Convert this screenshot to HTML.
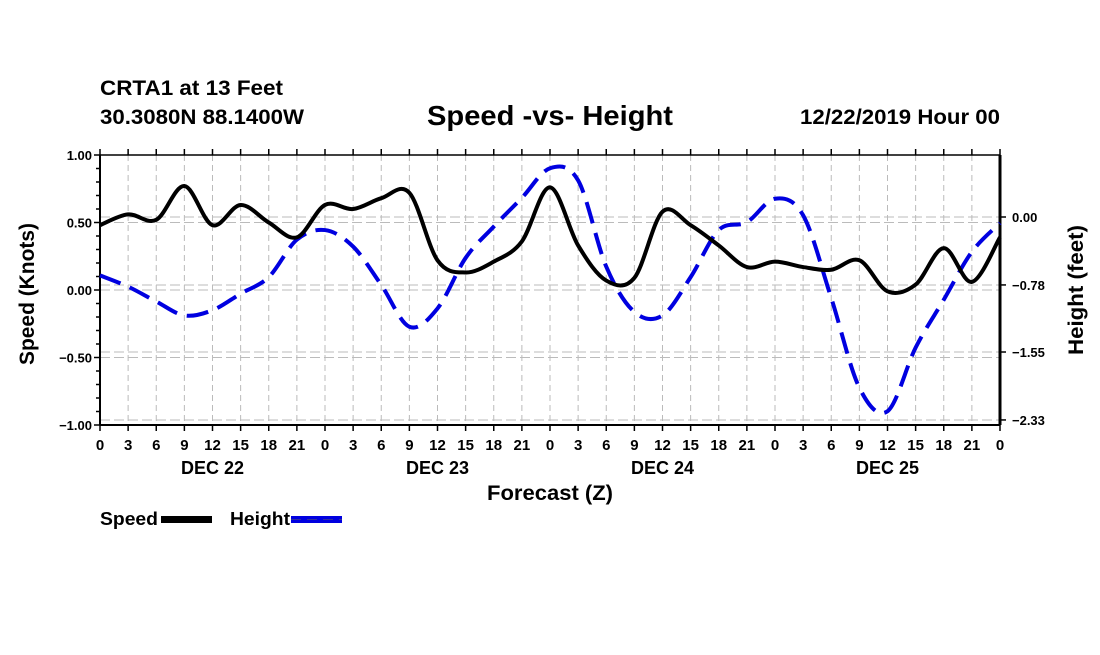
<!DOCTYPE html>
<html><head><meta charset="utf-8"><style>
html,body{margin:0;padding:0;background:#fff;}
svg text{font-family:"Liberation Sans",sans-serif;font-weight:bold;fill:#000;}
</style></head><body>
<svg id="chart" width="1100" height="650" viewBox="0 0 1100 650" xmlns="http://www.w3.org/2000/svg">
<text x="100" y="95" font-size="21" textLength="183" lengthAdjust="spacingAndGlyphs">CRTA1 at 13 Feet</text>
<text x="100" y="124" font-size="21" textLength="204" lengthAdjust="spacingAndGlyphs">30.3080N 88.1400W</text>
<text x="550" y="125" font-size="28" text-anchor="middle" textLength="246" lengthAdjust="spacingAndGlyphs">Speed -vs- Height</text>
<text x="1000" y="124" font-size="21" text-anchor="end" textLength="200" lengthAdjust="spacingAndGlyphs">12/22/2019 Hour 00</text>
<g id="grid"></g><g id="axes"></g><g id="series"></g>
<text transform="translate(34,294) rotate(-90)" font-size="21" text-anchor="middle" textLength="142" lengthAdjust="spacingAndGlyphs">Speed (Knots)</text>
<text transform="translate(1083,290) rotate(-90)" font-size="21" text-anchor="middle" textLength="130" lengthAdjust="spacingAndGlyphs">Height (feet)</text>
<text x="550" y="500" font-size="21" text-anchor="middle" textLength="126" lengthAdjust="spacingAndGlyphs">Forecast (Z)</text>
<g>
<text x="100" y="525" font-size="18" textLength="58" lengthAdjust="spacingAndGlyphs">Speed</text>
<rect x="161" y="516" width="51" height="7" fill="#000"/>
<text x="230" y="525" font-size="18" textLength="60" lengthAdjust="spacingAndGlyphs">Height</text>
<rect x="291" y="516" width="51" height="7" fill="#0000e0"/>
<line x1="291" y1="519.5" x2="342" y2="519.5" stroke="#3030a0" stroke-width="1" stroke-dasharray="10,6"/>
</g>
</svg>
<script>
const hours=[0,3,6,9,12,15,18,21,24,27,30,33,36,39,42,45,48,51,54,57,60,63,66,69,72,75,78,81,84,87,90,93,96];
const speed=[0.48,0.56,0.52,0.77,0.48,0.63,0.50,0.39,0.63,0.60,0.68,0.72,0.22,0.13,0.21,0.36,0.76,0.33,0.07,0.09,0.58,0.48,0.33,0.17,0.21,0.17,0.15,0.22,-0.01,0.04,0.31,0.06,0.39];
const height=[-0.67,-0.80,-0.97,-1.13,-1.07,-0.88,-0.69,-0.26,-0.15,-0.34,-0.78,-1.26,-1.05,-0.47,-0.11,0.22,0.56,0.42,-0.57,-1.09,-1.13,-0.69,-0.15,-0.06,0.21,0.02,-0.93,-1.96,-2.23,-1.50,-0.95,-0.40,-0.07];
const leftTicks=["1.00","0.50","0.00","-0.50","-1.00"];
const rightTicks=["0.00","-0.78","-1.55","-2.33"];
const hourLabels=["0","3","6","9","12","15","18","21"];
const dayLabels=["DEC 22","DEC 23","DEC 24","DEC 25"];
const NS="http://www.w3.org/2000/svg";
const X0=100,X1=1000,YT=155,YB=425;
const x=h=>X0+(X1-X0)*h/96;
const yL=v=>290-v*135;
const yR=v=>217-v*87.1;
function mk(tag,attrs,parent){const e=document.createElementNS(NS,tag);for(const k in attrs)e.setAttribute(k,attrs[k]);parent.appendChild(e);return e;}
const grid=document.getElementById('grid'),axes=document.getElementById('axes'),ser=document.getElementById('series');
mk('rect',{x:X0,y:YT,width:X1-X0,height:YB-YT,fill:'#fff'},grid);
for(let h=3;h<96;h+=3){const l=mk('line',{x1:x(h),x2:x(h),y1:YT,y2:YB,stroke:'#bbb','stroke-dasharray':'6,4'},grid);

}
leftTicks.forEach(t=>{const v=parseFloat(t);if(v===1||v===-1)return;const l=mk('line',{x1:X0,x2:X1,y1:yL(v),y2:yL(v),stroke:'#bbb','stroke-dasharray':'10,4'},grid);

});
rightTicks.forEach(t=>{const v=parseFloat(t);const l=mk('line',{x1:X0,x2:X1,y1:yR(v),y2:yR(v),stroke:'#bbb','stroke-dasharray':'10,4'},grid);

});
mk('line',{x1:X0,x2:X0,y1:YT,y2:YB,stroke:'#000','stroke-width':2},axes);
mk('line',{x1:X0,x2:X1,y1:YB,y2:YB,stroke:'#000','stroke-width':2},axes);
mk('line',{x1:X0,x2:X1,y1:YT,y2:YT,stroke:'#000','stroke-width':1.5},axes);
mk('line',{x1:X1,x2:X1,y1:YT,y2:YB,stroke:'#000','stroke-width':3},axes);
for(let i=-10;i<=10;i++){const yy=yL(i/10);const w=i%5===0?6:4;mk('line',{x1:X0-w,x2:X0,y1:yy,y2:yy,stroke:'#000','stroke-width':1.5},axes);}
leftTicks.forEach(t=>{const tx=mk('text',{x:X0-8,y:yL(parseFloat(t))+5,'font-size':13,'text-anchor':'end'},axes);tx.textContent=t.replace('-','\u2212');

});
rightTicks.forEach(t=>{const yy=yR(parseFloat(t));mk('line',{x1:X1,x2:X1+6,y1:yy,y2:yy,stroke:'#000','stroke-width':1.5},axes);
const tx=mk('text',{x:X1+12,y:yy+5,'font-size':13},axes);tx.textContent=t.replace('-','\u2212');

});
for(let h=0;h<=96;h+=3){mk('line',{x1:x(h),x2:x(h),y1:YB,y2:YB+6,stroke:'#000','stroke-width':1.5},axes);mk('line',{x1:x(h),x2:x(h),y1:YT-6,y2:YT,stroke:'#000','stroke-width':1.5},axes);
const tx=mk('text',{x:x(h),y:450,'font-size':15,'text-anchor':'middle'},axes);tx.textContent=h===96?"0":hourLabels[(h/3)%8];

}
dayLabels.forEach((d,i)=>{const tx=mk('text',{x:x(i*24+12),y:474,'font-size':18,'text-anchor':'middle'},axes);tx.textContent=d;

});
function path(vals,yf){const p=vals.map((v,i)=>[x(hours[i]),yf(v)]);let d='M'+p[0][0]+','+p[0][1];
for(let i=0;i<p.length-1;i++){const p0=p[Math.max(i-1,0)],p1=p[i],p2=p[i+1],p3=p[Math.min(i+2,p.length-1)];
d+=` C${p1[0]+(p2[0]-p0[0])/6},${p1[1]+(p2[1]-p0[1])/6} ${p2[0]-(p3[0]-p1[0])/6},${p2[1]-(p3[1]-p1[1])/6} ${p2[0]},${p2[1]}`;}return d;}
const hp=mk('path',{d:path(height,yR),fill:'none',stroke:'#0000e0','stroke-width':4,'stroke-dasharray':'22,10'},ser);


const sp=mk('path',{d:path(speed,yL),fill:'none',stroke:'#000','stroke-width':4},ser);


</script>
</body></html>
